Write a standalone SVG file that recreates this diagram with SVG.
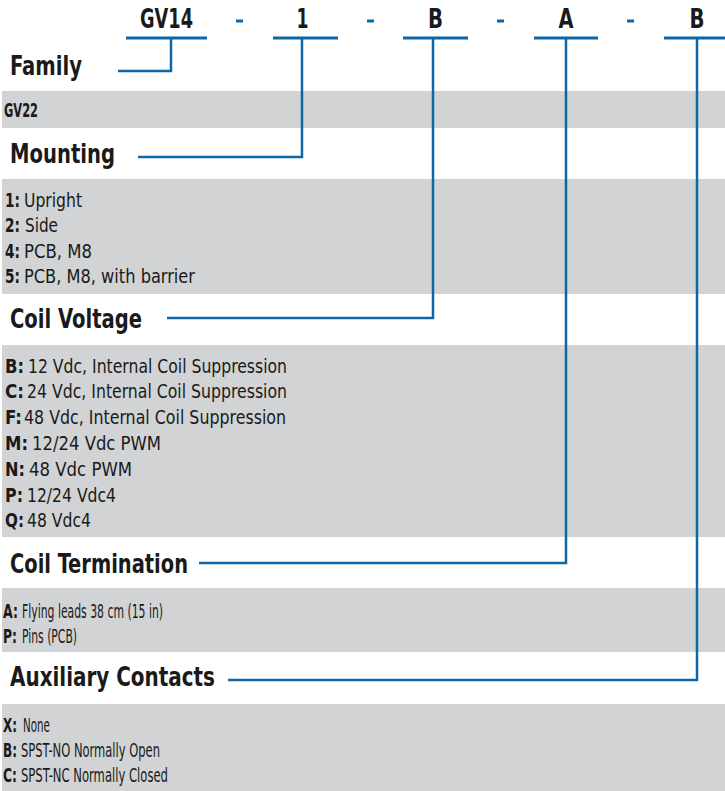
<svg xmlns="http://www.w3.org/2000/svg" width="725" height="791" viewBox="0 0 725 791">
<style>
text{font-family:"Liberation Sans Narrow","DejaVu Sans Condensed","Liberation Sans",Arial,sans-serif;fill:#1a1a1a}
.code{font-size:26px;font-weight:bold;text-anchor:middle}
.head{font-size:26px;font-weight:bold}
.body{font-size:19px}
.b{font-weight:bold}
.band{fill:#d1d3d4}
.ul{stroke:#0d67a6;stroke-width:3;fill:none}
.dash{stroke:#0d67a6;stroke-width:3}
.conn{stroke:#0d67a6;stroke-width:2.5;fill:none}
</style>
<rect width="725" height="791" fill="#ffffff"/>
<g id="bands">
<rect class="band" x="2" y="91" width="723" height="37"/>
<rect class="band" x="2" y="179" width="723" height="115"/>
<rect class="band" x="2" y="345" width="723" height="192"/>
<rect class="band" x="2" y="588" width="723" height="64"/>
<rect class="band" x="2" y="704" width="723" height="87"/>
</g>
<g id="code-family"><text class="code" x="166.5" y="28" textLength="53" lengthAdjust="spacingAndGlyphs">GV14</text><line class="ul" x1="126" y1="38" x2="207" y2="38"/></g>
<g id="code-mounting"><text class="code" x="302.5" y="28" textLength="12" lengthAdjust="spacingAndGlyphs">1</text><line class="ul" x1="273" y1="38" x2="338" y2="38"/></g>
<g id="code-voltage"><text class="code" x="435.5" y="28" textLength="15" lengthAdjust="spacingAndGlyphs">B</text><line class="ul" x1="403" y1="38" x2="468" y2="38"/></g>
<g id="code-termination"><text class="code" x="566" y="28" textLength="15" lengthAdjust="spacingAndGlyphs">A</text><line class="ul" x1="534" y1="38" x2="598" y2="38"/></g>
<g id="code-auxiliary"><text class="code" x="697" y="28" textLength="15" lengthAdjust="spacingAndGlyphs">B</text><line class="ul" x1="664" y1="38" x2="725" y2="38"/></g>
<g id="dashes">
<line class="dash" x1="236" y1="21" x2="243" y2="21"/>
<line class="dash" x1="367" y1="21" x2="374" y2="21"/>
<line class="dash" x1="497" y1="21" x2="504" y2="21"/>
<line class="dash" x1="627" y1="21" x2="634" y2="21"/>
</g>
<g id="connectors">
<path class="conn" d="M171,38 V71 H118"/>
<path class="conn" d="M302,38 V157 H138"/>
<path class="conn" d="M433,38 V318 H167"/>
<path class="conn" d="M566,38 V563 H199"/>
<path class="conn" d="M697,38 V680 H228"/>
</g>
<g id="family">
<text class="head" x="10" y="75" textLength="72" lengthAdjust="spacingAndGlyphs">Family</text>
<text class="body b" x="4" y="117" textLength="34" lengthAdjust="spacingAndGlyphs">GV22</text>
</g>
<g id="mounting">
<text class="head" x="10" y="163" textLength="105" lengthAdjust="spacingAndGlyphs">Mounting</text>
<text class="body b" x="5" y="207" textLength="15" lengthAdjust="spacingAndGlyphs">1:</text><text class="body" x="24" y="207" textLength="58" lengthAdjust="spacingAndGlyphs">Upright</text>
<text class="body b" x="5" y="232" textLength="15" lengthAdjust="spacingAndGlyphs">2:</text><text class="body" x="25" y="232" textLength="33" lengthAdjust="spacingAndGlyphs">Side</text>
<text class="body b" x="5" y="258" textLength="15" lengthAdjust="spacingAndGlyphs">4:</text><text class="body" x="24" y="258" textLength="68" lengthAdjust="spacingAndGlyphs">PCB, M8</text>
<text class="body b" x="5" y="283" textLength="15" lengthAdjust="spacingAndGlyphs">5:</text><text class="body" x="24" y="283" textLength="171" lengthAdjust="spacingAndGlyphs">PCB, M8, with barrier</text>
</g>
<g id="coil-voltage">
<text class="head" x="10" y="328" textLength="132" lengthAdjust="spacingAndGlyphs">Coil Voltage</text>
<text class="body b" x="5" y="373" textLength="19" lengthAdjust="spacingAndGlyphs">B:</text><text class="body" x="28" y="373" textLength="259" lengthAdjust="spacingAndGlyphs">12 Vdc, Internal Coil Suppression</text>
<text class="body b" x="5" y="398" textLength="19" lengthAdjust="spacingAndGlyphs">C:</text><text class="body" x="27" y="398" textLength="260" lengthAdjust="spacingAndGlyphs">24 Vdc, Internal Coil Suppression</text>
<text class="body b" x="5" y="424" textLength="17" lengthAdjust="spacingAndGlyphs">F:</text><text class="body" x="24" y="424" textLength="262" lengthAdjust="spacingAndGlyphs">48 Vdc, Internal Coil Suppression</text>
<text class="body b" x="5" y="450" textLength="23" lengthAdjust="spacingAndGlyphs">M:</text><text class="body" x="32" y="450" textLength="129" lengthAdjust="spacingAndGlyphs">12/24 Vdc PWM</text>
<text class="body b" x="5" y="476" textLength="20" lengthAdjust="spacingAndGlyphs">N:</text><text class="body" x="29" y="476" textLength="103" lengthAdjust="spacingAndGlyphs">48 Vdc PWM</text>
<text class="body b" x="5" y="502" textLength="18" lengthAdjust="spacingAndGlyphs">P:</text><text class="body" x="27" y="502" textLength="89" lengthAdjust="spacingAndGlyphs">12/24 Vdc4</text>
<text class="body b" x="5" y="527" textLength="19" lengthAdjust="spacingAndGlyphs">Q:</text><text class="body" x="27" y="527" textLength="64" lengthAdjust="spacingAndGlyphs">48 Vdc4</text>
</g>
<g id="coil-termination">
<text class="head" x="10" y="573" textLength="178" lengthAdjust="spacingAndGlyphs">Coil Termination</text>
<text class="body b" x="3" y="618" textLength="15" lengthAdjust="spacingAndGlyphs">A:</text><text class="body" x="22" y="618" textLength="141" lengthAdjust="spacingAndGlyphs">Flying leads 38 cm (15 in)</text>
<text class="body b" x="3" y="643" textLength="14" lengthAdjust="spacingAndGlyphs">P:</text><text class="body" x="22" y="643" textLength="55" lengthAdjust="spacingAndGlyphs">Pins (PCB)</text>
</g>
<g id="auxiliary-contacts">
<text class="head" x="10" y="686" textLength="205" lengthAdjust="spacingAndGlyphs">Auxiliary Contacts</text>
<text class="body b" x="3" y="732" textLength="14" lengthAdjust="spacingAndGlyphs">X:</text><text class="body" x="23" y="732" textLength="27" lengthAdjust="spacingAndGlyphs">None</text>
<text class="body b" x="3" y="757" textLength="14" lengthAdjust="spacingAndGlyphs">B:</text><text class="body" x="21" y="757" textLength="139" lengthAdjust="spacingAndGlyphs">SPST-NO Normally Open</text>
<text class="body b" x="3" y="782" textLength="14" lengthAdjust="spacingAndGlyphs">C:</text><text class="body" x="21" y="782" textLength="147" lengthAdjust="spacingAndGlyphs">SPST-NC Normally Closed</text>
</g>
</svg>
